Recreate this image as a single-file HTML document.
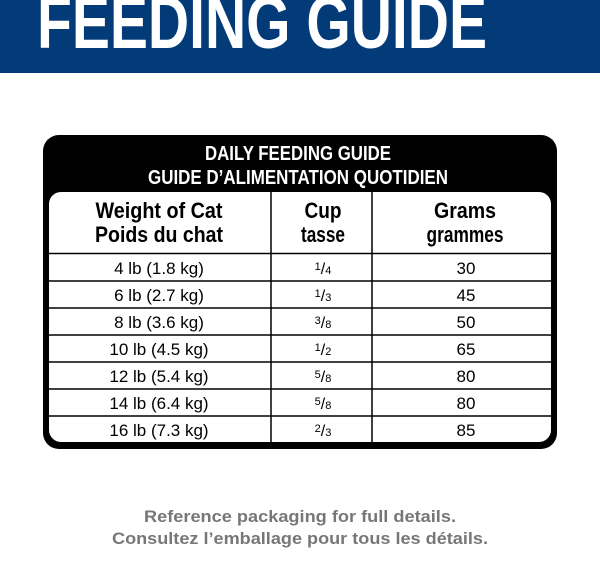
<!DOCTYPE html>
<html><head><meta charset="utf-8"><style>
html,body{margin:0;padding:0;background:#fff;}
svg{display:block;}
</style></head><body>
<svg width="600" height="569" viewBox="0 0 600 569" xmlns="http://www.w3.org/2000/svg" font-family="Liberation Sans, sans-serif">
<rect x="0" y="0" width="600" height="73" fill="#033a78"/>
<text x="262" y="48" font-size="74" font-weight="bold" fill="#fff" text-anchor="middle" textLength="450" lengthAdjust="spacingAndGlyphs">FEEDING GUIDE</text>
<rect x="43" y="135" width="514" height="314" rx="16" fill="#000"/>
<text x="298" y="160" font-size="20" font-weight="bold" fill="#fff" text-anchor="middle" textLength="186" lengthAdjust="spacingAndGlyphs">DAILY FEEDING GUIDE</text>
<text x="298" y="184" font-size="20" font-weight="bold" fill="#fff" text-anchor="middle" textLength="300" lengthAdjust="spacingAndGlyphs">GUIDE D’ALIMENTATION QUOTIDIEN</text>
<rect x="49" y="192" width="502" height="250" rx="12" fill="#fff"/>
<g stroke="#000" stroke-width="1.5">
<line x1="271" y1="192" x2="271" y2="442"/>
<line x1="372" y1="192" x2="372" y2="442"/>
<line x1="49" y1="253.5" x2="551" y2="253.5"/>
<line x1="49" y1="281" x2="551" y2="281"/>
<line x1="49" y1="308" x2="551" y2="308"/>
<line x1="49" y1="335" x2="551" y2="335"/>
<line x1="49" y1="362" x2="551" y2="362"/>
<line x1="49" y1="389" x2="551" y2="389"/>
<line x1="49" y1="416" x2="551" y2="416"/>
</g>
<g font-size="22" font-weight="bold" fill="#000" text-anchor="middle">
<text x="159" y="218" textLength="127" lengthAdjust="spacingAndGlyphs">Weight of Cat</text>
<text x="159" y="242" textLength="128" lengthAdjust="spacingAndGlyphs">Poids du chat</text>
<text x="323" y="218" textLength="37" lengthAdjust="spacingAndGlyphs">Cup</text>
<text x="323" y="242" textLength="44" lengthAdjust="spacingAndGlyphs">tasse</text>
<text x="465" y="218" textLength="62" lengthAdjust="spacingAndGlyphs">Grams</text>
<text x="465" y="242" textLength="77" lengthAdjust="spacingAndGlyphs">grammes</text>
</g>
<g font-size="17" fill="#000" text-anchor="middle">
<text x="159" y="274">4 lb (1.8 kg)</text>
<text x="159" y="301">6 lb (2.7 kg)</text>
<text x="159" y="328">8 lb (3.6 kg)</text>
<text x="159" y="355">10 lb (4.5 kg)</text>
<text x="159" y="382">12 lb (5.4 kg)</text>
<text x="159" y="409">14 lb (6.4 kg)</text>
<text x="159" y="436">16 lb (7.3 kg)</text>
<text x="466" y="274">30</text>
<text x="466" y="301">45</text>
<text x="466" y="328">50</text>
<text x="466" y="355">65</text>
<text x="466" y="382">80</text>
<text x="466" y="409">80</text>
<text x="466" y="436">85</text>
</g>
<g font-size="16" fill="#000" text-anchor="middle">
<text x="323" y="274"><tspan font-size="11" dy="-4">1</tspan><tspan dy="4">/</tspan><tspan font-size="11">4</tspan></text>
<text x="323" y="301"><tspan font-size="11" dy="-4">1</tspan><tspan dy="4">/</tspan><tspan font-size="11">3</tspan></text>
<text x="323" y="328"><tspan font-size="11" dy="-4">3</tspan><tspan dy="4">/</tspan><tspan font-size="11">8</tspan></text>
<text x="323" y="355"><tspan font-size="11" dy="-4">1</tspan><tspan dy="4">/</tspan><tspan font-size="11">2</tspan></text>
<text x="323" y="382"><tspan font-size="11" dy="-4">5</tspan><tspan dy="4">/</tspan><tspan font-size="11">8</tspan></text>
<text x="323" y="409"><tspan font-size="11" dy="-4">5</tspan><tspan dy="4">/</tspan><tspan font-size="11">8</tspan></text>
<text x="323" y="436"><tspan font-size="11" dy="-4">2</tspan><tspan dy="4">/</tspan><tspan font-size="11">3</tspan></text>
</g>
<g font-size="17" font-weight="bold" fill="#777" text-anchor="middle">
<text x="300" y="522" textLength="312" lengthAdjust="spacingAndGlyphs">Reference packaging for full details.</text>
<text x="300" y="544" textLength="376" lengthAdjust="spacingAndGlyphs">Consultez l’emballage pour tous les détails.</text>
</g>
</svg>
</body></html>
